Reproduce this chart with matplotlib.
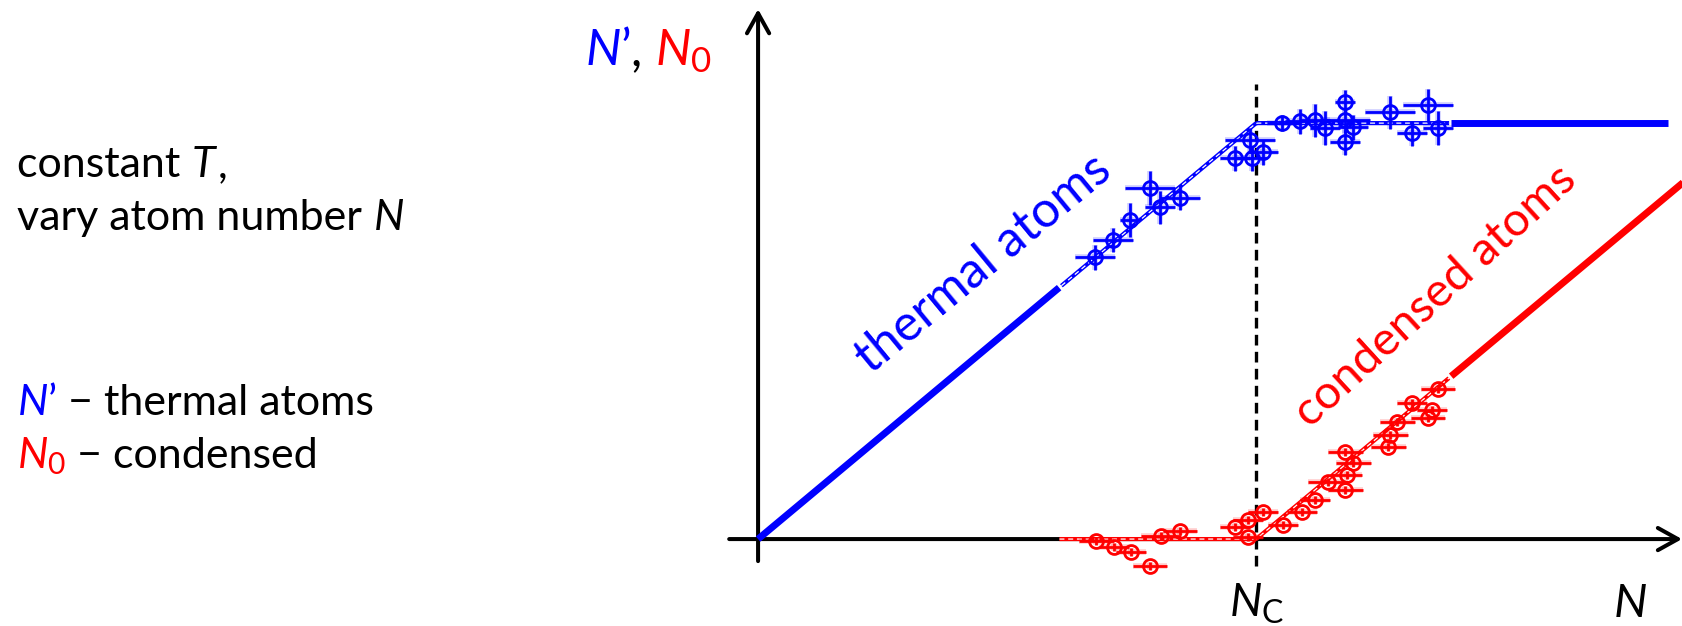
import matplotlib
matplotlib.use("Agg")
import matplotlib.pyplot as plt
import matplotlib.patheffects as pe
import numpy as np

plt.rcParams["font.family"] = ["Lato", "DejaVu Sans"]
plt.rcParams["mathtext.fontset"] = "custom"
plt.rcParams["mathtext.rm"] = "Lato"
plt.rcParams["mathtext.it"] = "Lato:italic"

BLUE = "#0000ff"
RED = "#ff0000"

# ideal model, N in units of N_c: N' = min(N, Nc), N0 = max(N - Nc, 0)
fit_n_thermal = [0.0, 1.0, 1.827]
fit_thermal = [0.0, 1.0, 1.0]
fit_n_condensed = [0.0, 1.0, 1.857]
fit_condensed = [0.0, 0.0, 0.857]
data_window = (0.605, 1.39)   # N range covered by the measurement

# measured thermal fraction N'
thermal_n = [0.677, 0.713, 0.747, 0.787, 0.807, 0.847, 0.958, 0.988, 0.992, 1.014, 1.052,
             1.088, 1.118, 1.139, 1.179, 1.179, 1.195, 1.179, 1.269, 1.313, 1.345, 1.365]
thermal_v = [0.678, 0.719, 0.767, 0.844, 0.798, 0.820, 0.916, 0.959, 0.916, 0.930, 1.000,
             1.005, 1.007, 0.988, 1.050, 1.007, 0.990, 0.954, 1.026, 0.976, 1.043, 0.988]
thermal_xerr = [0.04, 0.04, 0.02, 0.05, 0.03, 0.04, 0.03, 0.05, 0.03, 0.03, 0.03,
                0.03, 0.03, 0.03, 0.02, 0.05, 0.03, 0.03, 0.05, 0.03, 0.05, 0.03]
thermal_yerr = [0.03, 0.03, 0.04, 0.04, 0.04, 0.03, 0.03, 0.03, 0.03, 0.03, 0.02,
                0.03, 0.04, 0.04, 0.03, 0.03, 0.03, 0.03, 0.04, 0.03, 0.04, 0.04]

# measured condensed fraction N0
cond_n = [0.679, 0.715, 0.749, 0.787, 0.809, 0.847, 0.958, 0.984, 1.014, 0.984, 1.054, 1.092,
          1.118, 1.145, 1.179, 1.183, 1.195, 1.179, 1.265, 1.269, 1.283, 1.345, 1.353, 1.313, 1.365]
cond_v = [-0.005, -0.019, -0.031, -0.065, 0.007, 0.019, 0.029, 0.046, 0.065, 0.005, 0.034, 0.065,
          0.094, 0.137, 0.118, 0.154, 0.183, 0.209, 0.221, 0.250, 0.281, 0.291, 0.310, 0.327, 0.361]
cond_xerr = [0.035, 0.03, 0.03, 0.035, 0.04, 0.035, 0.03, 0.03, 0.03, 0.03, 0.03, 0.03,
             0.03, 0.04, 0.035, 0.03, 0.035, 0.035, 0.035, 0.035, 0.035, 0.035, 0.03, 0.03, 0.035]
cond_yerr = [0.01] * len(cond_n)

fig = plt.figure(figsize=(16.83, 6.26), dpi=100)
ax = fig.add_axes([0, 0, 1, 1])
ax.set_xlim(-1.522, 1.857)
ax.set_ylim(-0.209, 1.296)
ax.axis("off")

# axes with open arrow heads
arrow = dict(arrowstyle="->,head_length=0.72,head_width=0.4", lw=2.9, color="black",
             mutation_scale=20, shrinkA=0, shrinkB=0)
ax.annotate("", xy=(1.855, 0), xytext=(-0.058, 0), arrowprops=arrow)
ax.annotate("", xy=(0, 1.274), xytext=(0, -0.053), arrowprops=arrow)

# critical atom number
ax.plot([1.0, 1.0], [-0.065, 1.095], color="black", lw=2.4, ls=(0, (3.2, 1.9)), zorder=2)


def draw_fit(x, y, color, thick_left=True):
    xs = np.linspace(x[0], x[-1], 400)
    ys = np.interp(xs, x, y)
    lo, hi = data_window
    inside = (xs >= lo) & (xs <= hi)
    if thick_left:
        ax.plot(xs[xs <= lo], ys[xs <= lo], color=color, lw=5, solid_capstyle="butt", zorder=3)
    ax.plot(xs[xs >= hi], ys[xs >= hi], color=color, lw=5, solid_capstyle="butt", zorder=3)
    ax.plot(xs[inside], ys[inside], color=color, lw=3, solid_capstyle="butt", zorder=3)
    ax.plot(xs[inside], ys[inside], color="white", lw=0.9, ls=(0, (4, 3)), zorder=3)


draw_fit(fit_n_thermal, fit_thermal, BLUE)
draw_fit(fit_n_condensed, fit_condensed, RED, thick_left=False)

err_style = dict(fmt="o", ms=10, mfc="none", mew=2.0, elinewidth=2.0, capsize=0, zorder=4)
for xs, ys, xe, ye, color in [(thermal_n, thermal_v, thermal_xerr, thermal_yerr, BLUE),
                              (cond_n, cond_v, cond_xerr, cond_yerr, RED)]:
    cont = ax.errorbar(xs, ys, xerr=xe, yerr=ye, color=color, **err_style)
    # soft halo around the error bars
    for coll in cont.lines[2]:
        coll.set_path_effects([pe.Stroke(linewidth=4, foreground=color, alpha=0.2), pe.Normal()])

# curve labels
ax.text(0.452, 0.662, "thermal atoms", color=BLUE, fontsize=36, rotation=39.5,
        rotation_mode="anchor", ha="center", va="center")
ax.text(1.36, 0.583, "condensed atoms", color=RED, fontsize=34, rotation=42.5,
        rotation_mode="anchor", ha="center", va="center")

ax.text(1.0, -0.188, r"$N_{\mathrm{C}}$", fontsize=33, ha="center", va="baseline")
ax.text(1.75, -0.188, r"$N$", fontsize=34, ha="center", va="baseline")

fig.canvas.draw()
renderer = fig.canvas.get_renderer()
W, H = fig.bbox.width, fig.bbox.height


def colored_line(x_px, y_px, pieces, size):
    """Write text pieces one after another starting at pixel (x_px, baseline y_px from top)."""
    x = x_px
    for s, color in pieces:
        t = fig.text(x / W, 1 - y_px / H, s, color=color, fontsize=size, va="baseline", ha="left")
        x += t.get_window_extent(renderer).width


colored_line(585, 65, [(r"$N$’", BLUE), (", ", "black"), (r"$N_{\mathrm{0}}$", RED)], 36)

LEFT = 17
colored_line(LEFT, 177, [("constant ", "black"), (r"$T$", "black"), (",", "black")], 31)
colored_line(LEFT, 230, [("vary atom number ", "black"), (r"$N$", "black")], 31)
colored_line(LEFT, 415, [(r"$N$’", BLUE), (" − thermal atoms", "black")], 31)
colored_line(LEFT, 468, [(r"$N_{\mathrm{0}}$", RED), (" − condensed", "black")], 31)

fig.savefig("out.png", dpi=100)
